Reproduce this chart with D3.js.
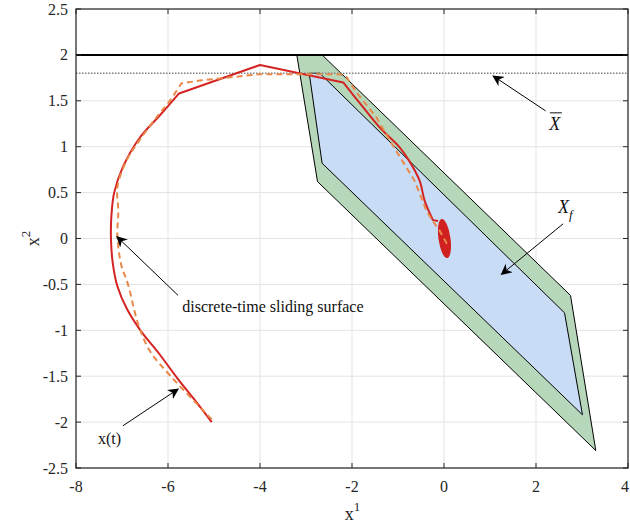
<!DOCTYPE html>
<html>
<head>
<meta charset="utf-8">
<script src="https://cdn.jsdelivr.net/npm/d3@7"></script>
<style>
  html, body { margin: 0; padding: 0; background: #fff; }
  svg { display: block; }
  svg text { font-family: "Liberation Serif", "DejaVu Serif", serif; }
</style>
</head>
<body>
<svg id="chart" width="630" height="527"></svg>
<script>
// ---- data ----
const xTicks = [-8, -6, -4, -2, 0, 2, 4];
const yTicks = [-2.5, -2, -1.5, -1, -0.5, 0, 0.5, 1, 1.5, 2, 2.5];

// state constraint bound and tightened bound
const stateBound = 2;
const tightBound = 1.8;

// outer (green) and terminal (blue) polytopes
const outerSet = [[-3.2, 2], [-2.65, 2], [2.75, -0.62], [3.30, -2.31], [-2.75, 0.62]];
const terminalSet = [[-2.93, 1.8], [-2.70, 1.8], [2.62, -0.81], [3.01, -1.92], [-2.65, 0.82]];

// closed-loop trajectory x(t): smooth approach, then two straight steps, then the final descent
const trajectoryApproach = [
  [-5.05, -2.0], [-5.45, -1.74], [-5.8, -1.52], [-6.2, -1.25], [-6.6, -1.0],
  [-6.9, -0.76], [-7.1, -0.52], [-7.2, -0.27], [-7.24, 0.0], [-7.23, 0.25],
  [-7.17, 0.5], [-6.98, 0.78], [-6.61, 1.10], [-6.18, 1.34], [-5.76, 1.58]
];
const trajectorySteps = [[-5.76, 1.58], [-4.0, 1.89], [-2.19, 1.70]];
const trajectoryDescent = [
  [-2.19, 1.70], [-1.76, 1.43], [-1.40, 1.21], [-0.96, 0.99],
  [-0.75, 0.84], [-0.53, 0.63], [-0.42, 0.41], [-0.24, 0.20]
];
const trajectoryTail = [[-0.24, 0.20], [-0.13, 0.19]];

// discrete-time sliding surface
const surfaceApproach = [
  [-5.05, -1.97], [-5.24, -1.87], [-5.96, -1.49], [-6.4, -1.22], [-6.65, -0.93],
  [-6.87, -0.5], [-7.02, -0.28], [-7.1, 0.03], [-7.08, 0.30], [-7.1, 0.56],
  [-6.9, 0.85], [-6.62, 1.07], [-6.25, 1.32], [-5.96, 1.5], [-5.71, 1.69]
];
const surfaceRest = [
  [-5.71, 1.69], [-5.31, 1.72], [-4.0, 1.79], [-2.27, 1.79], [-2.12, 1.76], [-1.9, 1.59],
  [-1.47, 1.32], [-1.18, 1.07], [-1.07, 0.98], [-0.64, 0.63], [-0.53, 0.49],
  [-0.38, 0.30], [-0.27, 0.21], [-0.09, 0.08], [0.09, -0.08]
];

// cluster of states around the origin
const originCluster = { cx: 0.01, cy: 0.0, rx: 0.13, ry: 0.215, angle: -8 };

// annotations: [fromX, fromY, toX, toY]
const arrows = [
  [2.21, 1.39, 1.07, 1.77],
  [2.59, 0.16, 1.25, -0.39],
  [-5.78, -0.62, -7.11, 0.02],
  [-6.98, -2.04, -5.78, -1.64]
];

// ---- layout ----
const svg = d3.select("#chart");
const margin = { left: 76, right: 2, top: 9, bottom: 59 };
const W = 630, H = 527;
const x = d3.scaleLinear().domain([-8, 4]).range([margin.left, W - margin.right]);
const y = d3.scaleLinear().domain([-2.5, 2.5]).range([H - margin.bottom, margin.top]);

const clipId = "plotclip";
svg.append("clipPath").attr("id", clipId).append("rect")
  .attr("x", x(-8)).attr("y", y(2.5))
  .attr("width", x(4) - x(-8)).attr("height", y(-2.5) - y(2.5));

// grid
const grid = svg.append("g");
grid.selectAll("line.gx").data(xTicks).join("line")
  .attr("x1", d => x(d)).attr("x2", d => x(d))
  .attr("y1", y(2.5)).attr("y2", y(-2.5))
  .attr("stroke", "#e3e3e3").attr("stroke-width", 1);
grid.selectAll("line.gy").data(yTicks).join("line")
  .attr("y1", d => y(d)).attr("y2", d => y(d))
  .attr("x1", x(-8)).attr("x2", x(4))
  .attr("stroke", "#e3e3e3").attr("stroke-width", 1);

const plot = svg.append("g").attr("clip-path", `url(#${clipId})`);
const line = d3.line().x(d => x(d[0])).y(d => y(d[1]));
const smooth = d3.line().x(d => x(d[0])).y(d => y(d[1])).curve(d3.curveCatmullRom.alpha(0.5));

// sets
plot.append("path").datum(outerSet)
  .attr("d", d => line(d) + "Z")
  .attr("fill", "#b6d7ba").attr("stroke", "#000").attr("stroke-width", 1);
plot.append("path").datum(terminalSet)
  .attr("d", d => line(d) + "Z")
  .attr("fill", "#c9dcf5").attr("stroke", "#000").attr("stroke-width", 1);

// constraint lines
plot.append("line")
  .attr("x1", x(-8)).attr("x2", x(4))
  .attr("y1", y(stateBound)).attr("y2", y(stateBound))
  .attr("stroke", "#000").attr("stroke-width", 2);
plot.append("line")
  .attr("x1", x(-8)).attr("x2", x(4))
  .attr("y1", y(tightBound)).attr("y2", y(tightBound))
  .attr("stroke", "#808080").attr("stroke-width", 1.5)
  .attr("stroke-dasharray", "1.5,1.5");

// cluster near the origin
const oc = originCluster;
plot.append("ellipse")
  .attr("cx", x(oc.cx)).attr("cy", y(oc.cy))
  .attr("rx", x(oc.rx) - x(0)).attr("ry", y(0) - y(oc.ry))
  .attr("transform", `rotate(${oc.angle},${x(oc.cx)},${y(oc.cy)})`)
  .attr("fill", "#d0201f");

// trajectory
const trajD = smooth(trajectoryApproach) + line(trajectorySteps).replace(/^M[^L]*/, "") +
  smooth(trajectoryDescent).replace(/^M[^C]*/, "") + line(trajectoryTail).replace(/^M[^L]*/, "");
plot.append("path")
  .attr("d", trajD)
  .attr("fill", "none").attr("stroke", "#d42323").attr("stroke-width", 2)
  .attr("stroke-linejoin", "round");

// sliding surface
const surfD = smooth(surfaceApproach) + line(surfaceRest).replace(/^M[^L]*/, "");
plot.append("path")
  .attr("d", surfD)
  .attr("fill", "none").attr("stroke", "#e8894a").attr("stroke-width", 2)
  .attr("stroke-dasharray", "6,4");

// axes box
const axisColor = "#262626";
const box = svg.append("g");
box.append("rect")
  .attr("x", x(-8)).attr("y", y(2.5))
  .attr("width", x(4) - x(-8)).attr("height", y(-2.5) - y(2.5))
  .attr("fill", "none").attr("stroke", axisColor).attr("stroke-width", 1.2);

const tickLen = 5;
box.selectAll("line.tb").data(xTicks).join("line")
  .attr("x1", d => x(d)).attr("x2", d => x(d))
  .attr("y1", y(-2.5)).attr("y2", y(-2.5) - tickLen)
  .attr("stroke", axisColor);
box.selectAll("line.tt").data(xTicks).join("line")
  .attr("x1", d => x(d)).attr("x2", d => x(d))
  .attr("y1", y(2.5)).attr("y2", y(2.5) + tickLen)
  .attr("stroke", axisColor);
box.selectAll("line.tl").data(yTicks).join("line")
  .attr("y1", d => y(d)).attr("y2", d => y(d))
  .attr("x1", x(-8)).attr("x2", x(-8) + tickLen)
  .attr("stroke", axisColor);
box.selectAll("line.tr").data(yTicks).join("line")
  .attr("y1", d => y(d)).attr("y2", d => y(d))
  .attr("x1", x(4)).attr("x2", x(4) - tickLen)
  .attr("stroke", axisColor);

// tick labels
const fmt = d => String(d);
svg.append("g").selectAll("text").data(xTicks).join("text")
  .attr("x", d => Math.min(x(d), W - 5)).attr("y", y(-2.5) + 24)
  .attr("text-anchor", "middle").attr("font-size", 16).attr("fill", axisColor)
  .text(fmt);
svg.append("g").selectAll("text").data(yTicks).join("text")
  .attr("x", x(-8) - 8).attr("y", d => y(d) + 5.5)
  .attr("text-anchor", "end").attr("font-size", 16).attr("fill", axisColor)
  .text(fmt);

// axis titles
const xl = svg.append("text")
  .attr("x", x(-2) + 0.5).attr("y", 520)
  .attr("text-anchor", "middle").attr("font-size", 18).attr("fill", axisColor);
xl.append("tspan").text("x");
xl.append("tspan").attr("font-size", 13).attr("dy", -9).text("1");

const yl = svg.append("text")
  .attr("transform", `translate(39,${y(0)}) rotate(-90)`)
  .attr("text-anchor", "middle").attr("font-size", 18).attr("fill", axisColor);
yl.append("tspan").text("x");
yl.append("tspan").attr("font-size", 13).attr("dy", -9).text("2");

// arrows
const defs = svg.append("defs");
defs.append("marker").attr("id", "arrowhead")
  .attr("viewBox", "0 0 10 10").attr("refX", 9).attr("refY", 5)
  .attr("markerWidth", 11).attr("markerHeight", 11)
  .attr("markerUnits", "userSpaceOnUse")
  .attr("orient", "auto")
  .append("path").attr("d", "M0,0 L10,5 L0,10 L3,5 Z").attr("fill", "#000");

svg.append("g").selectAll("line").data(arrows).join("line")
  .attr("x1", d => x(d[0])).attr("y1", d => y(d[1]))
  .attr("x2", d => x(d[2])).attr("y2", d => y(d[3]))
  .attr("stroke", "#000").attr("stroke-width", 1)
  .attr("marker-end", "url(#arrowhead)");

// annotation labels
const xbar = svg.append("g");
xbar.append("text")
  .attr("x", x(2.41)).attr("y", y(1.26) + 7)
  .attr("text-anchor", "middle").attr("font-size", 18).attr("font-style", "italic")
  .attr("fill", "#111").text("X");
xbar.append("line")
  .attr("x1", x(2.41) - 5).attr("x2", x(2.41) + 7)
  .attr("y1", y(1.26) - 10).attr("y2", y(1.26) - 10)
  .attr("stroke", "#111").attr("stroke-width", 1);

const xf = svg.append("text")
  .attr("x", x(2.48)).attr("y", y(0.35) + 7)
  .attr("font-size", 18).attr("font-style", "italic").attr("fill", "#111");
xf.append("tspan").text("X");
xf.append("tspan").attr("font-size", 13).attr("dy", 6).text("f");

svg.append("text")
  .attr("x", x(-5.69)).attr("y", y(-0.80))
  .attr("font-size", 16).attr("fill", "#111")
  .text("discrete-time sliding surface");

svg.append("text")
  .attr("x", x(-7.27)).attr("y", y(-2.18) + 5)
  .attr("text-anchor", "middle").attr("font-size", 16).attr("fill", "#111")
  .text("x(t)");
</script>
</body>
</html>
